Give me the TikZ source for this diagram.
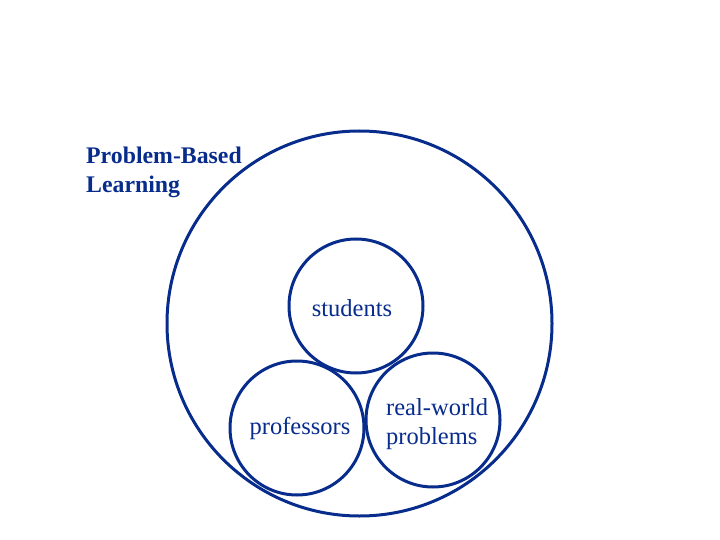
\documentclass[tikz,border=0pt]{standalone}
\usepackage{fontspec}
\setmainfont{Liberation Serif}
\definecolor{pblblue}{RGB}{8,44,140}

\tikzset{
  ring/.style={circle, draw=pblblue, line width=3pt, inner sep=0pt},
  lbl/.style={text=pblblue, font=\fontsize{24.5}{29.5}\selectfont, align=center, inner sep=0pt}
}

\begin{document}
\begin{tikzpicture}[x=1pt,y=-1pt]
  \useasboundingbox (0,0) rectangle (720,540);
  % outer circle and the three parts
  \node[ring, minimum size=385pt] (pbl) at (359.5,323.5) {};
  \node[ring, minimum size=134pt] (stud) at (356,306) {};
  \node[ring, minimum size=134pt] (prof) at (297,428) {};
  \node[ring, minimum size=134pt] (real) at (433,420) {};
  % labels
  \node[lbl, anchor=west, align=left, font=\bfseries\fontsize{23.8}{29}\selectfont] (title) at (86,172) {Problem-Based\\Learning};
  \node[lbl] (studtxt) at (352,308) {students};
  \node[lbl] (proftxt) at (300,428) {professors};
  \node[lbl, anchor=west, align=left] (realtxt) at (386,424) {real-world\\problems};
\end{tikzpicture}
\end{document}
